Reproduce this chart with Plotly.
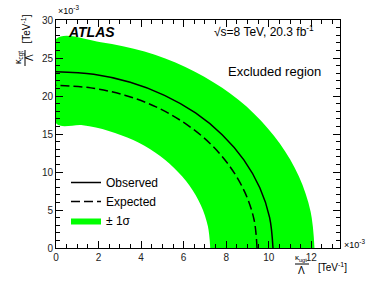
import plotly.graph_objects as go

# ---- data (units of 1e-3 TeV^-1) ----
obs_x = [10.2, 10.04, 9.58, 8.83, 7.81, 6.56, 5.10, 3.49, 1.77, 0]
obs_y = [0, 4.03, 7.93, 11.6, 14.91, 17.77, 20.09, 21.80, 22.85, 23.2]

exp_x = [9.45, 9.31, 8.88, 8.18, 7.24, 6.07, 4.73, 3.23, 1.64, 0]
exp_y = [0, 3.72, 7.32, 10.7, 13.76, 16.39, 18.53, 20.11, 21.07, 21.4]

band_hi_x = [12.15, 11.97, 11.42, 10.52, 9.31, 7.81, 6.08, 4.16, 2.11, 0]
band_hi_y = [0, 4.77, 9.41, 13.75, 17.68, 21.07, 23.82, 25.84, 27.08, 27.5]

band_lo_x = [7.25, 7.14, 6.81, 6.28, 5.55, 4.66, 3.63, 2.48, 1.26, 0]
band_lo_y = [0, 2.85, 5.61, 8.2, 10.54, 12.56, 14.20, 15.41, 16.15, 16.4]

x_ticks = [0, 2, 4, 6, 8, 10, 12]
y_ticks = [0, 5, 10, 15, 20, 25, 30]

W, H = 374, 296
L, R, T, B = 56, 34, 20, 48
PW, PH = W - L - R, H - T - B


def px(x):
    return (x - L) / PW


def py(y):
    return (H - B - y) / PH


FONT = "Liberation Sans, Arial, sans-serif"
GREEN = "#00ff00"

fig = go.Figure()

fig.add_trace(go.Scatter(
    x=band_hi_x + band_lo_x[::-1], y=band_hi_y + band_lo_y[::-1],
    fill="toself", fillcolor=GREEN, mode="lines", line=dict(width=0, color=GREEN),
    line_shape="spline", name="± 1σ", legendrank=3, hoverinfo="skip"))
fig.add_trace(go.Scatter(
    x=exp_x, y=exp_y, mode="lines", line=dict(color="black", width=1.5, dash="9px,4px"),
    line_shape="spline", name="Expected", legendrank=2))
fig.add_trace(go.Scatter(
    x=obs_x, y=obs_y, mode="lines", line=dict(color="black", width=1.5),
    line_shape="spline", name="Observed", legendrank=1))

axis_common = dict(
    showgrid=False, zeroline=False, showline=True, linecolor="black", linewidth=1,
    mirror="allticks", ticks="inside", ticklen=7, tickcolor="black",
    tickfont=dict(family=FONT, size=10, color="#222"),
)

fig.update_xaxes(range=[0, 13.35], tickvals=x_ticks, **axis_common,
                 minor=dict(dtick=0.5, ticks="inside", ticklen=4, tickcolor="black"))
fig.update_yaxes(range=[0, 30], tickvals=y_ticks, **axis_common,
                 minor=dict(dtick=1, ticks="inside", ticklen=4, tickcolor="black"))

ann = []


def add(text, x, y, size, xanchor="center", yanchor="middle", angle=0, **kw):
    ann.append(dict(text=text, x=px(x), y=py(y), xref="paper", yref="paper",
                    xanchor=xanchor, yanchor=yanchor, showarrow=False, textangle=angle,
                    font=dict(family=FONT, size=size, color="black"), **kw))


add("<b><i>ATLAS</i></b>", 66, 32, 14, xanchor="left")
add("√s=8 TeV, 20.3 fb<sup>-1</sup>", 316, 31, 12, xanchor="right")
add("Excluded region", 323, 71, 13, xanchor="right")
add("×10<sup>-3</sup>", 56, 10, 9, xanchor="left")
add("×10<sup>-3</sup>", 342, 244, 9, xanchor="left")

# x axis title (fraction)
add("κ<sub>ugt</sub>", 301, 258, 8)
add("Λ", 301, 270, 10)
add("[TeV<sup>-1</sup>]", 316, 267, 10, xanchor="left")
# y axis title (fraction, rotated)
add("κ<sub>cgt</sub>", 19, 58, 9, angle=-90)
add("Λ", 30, 58, 10, angle=-90)
add("[TeV<sup>-1</sup>]", 25, 46, 10, angle=-90, yanchor="bottom")

fig.update_layout(
    width=W, height=H, margin=dict(l=L, r=R, t=T, b=B),
    paper_bgcolor="white", plot_bgcolor="white",
    annotations=ann,
    shapes=[
        dict(type="line", xref="paper", yref="paper", x0=px(295), x1=px(309),
             y0=py(264), y1=py(264), line=dict(color="black", width=1)),
        dict(type="line", xref="paper", yref="paper", x0=px(25), x1=px(25),
             y0=py(50), y1=py(66), line=dict(color="black", width=1)),
    ],
    legend=dict(x=px(66), y=py(168), xanchor="left", yanchor="top",
                bgcolor="rgba(0,0,0,0)", font=dict(family=FONT, size=12, color="black"),
                itemwidth=30, tracegroupgap=0, traceorder="normal"),
    showlegend=True,
)

fig.write_html("out.html", config={"displayModeBar": False},
               post_script="document.body.style.margin='0';")
